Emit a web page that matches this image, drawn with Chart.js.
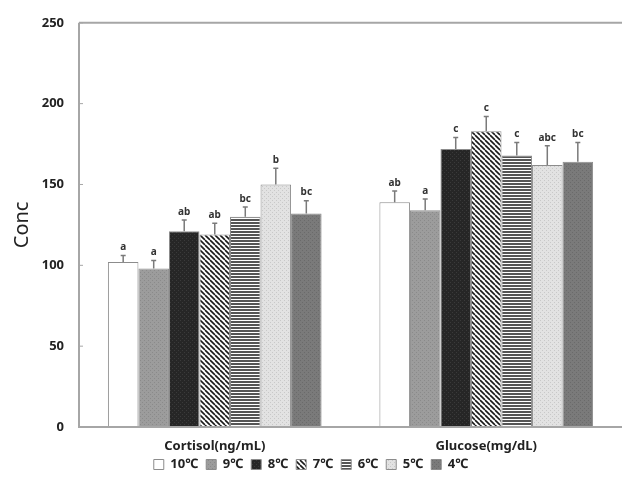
<!DOCTYPE html>
<html>
<head>
<meta charset="utf-8">
<script src="https://cdn.jsdelivr.net/npm/chart.js@4.4.1/dist/chart.umd.min.js"></script>
<style>
  html, body { margin: 0; padding: 0; background: #fff; overflow: hidden; }
  #wrap { width: 622px; height: 480px; }
</style>
</head>
<body>
<div id="wrap"><canvas id="chart" width="622" height="480"></canvas></div>
<script>
const categories = ['Cortisol(ng/mL)', 'Glucose(mg/dL)'];
const temps = ['10℃', '9℃', '8℃', '7℃', '6℃', '5℃', '4℃'];

const cortisol = [102, 98, 121, 119, 130, 150, 132];
const cortisolErr = [4, 5, 7, 7, 6, 10, 8];
const cortisolLetters = ['a', 'a', 'ab', 'ab', 'bc', 'b', 'bc'];

const glucose = [139, 134, 172, 183, 168, 162, 164];
const glucoseErr = [7, 7, 7, 9, 8, 12, 12];
const glucoseLetters = ['ab', 'a', 'c', 'c', 'c', 'abc', 'bc'];

const yTicks = [0, 50, 100, 150, 200, 250];

// small canvas patterns to mimic the hatched fills
function makePattern(size, bg, paint) {
  const c = document.createElement('canvas');
  c.width = size; c.height = size;
  const g = c.getContext('2d');
  g.fillStyle = bg;
  g.fillRect(0, 0, size, size);
  if (paint) paint(g, size);
  return g.createPattern(c, 'repeat');
}

function dots(color) {
  return (g) => { g.fillStyle = color; g.fillRect(0, 0, 1, 1); g.fillRect(2, 2, 1, 1); };
}

const fills = [
  '#ffffff',
  makePattern(4, '#9c9c9c', dots('#8a8a8a')),
  makePattern(4, '#262626', dots('#3a3a3a')),
  makePattern(5, '#ffffff', (g, s) => {
    g.strokeStyle = '#1a1a1a';
    g.lineWidth = 1.6;
    for (let k = -1; k <= 1; k++) {
      g.beginPath();
      g.moveTo(k * s, 0);
      g.lineTo(k * s + s, s);
      g.stroke();
    }
  }),
  makePattern(3, '#ffffff', (g, s) => { g.fillStyle = '#555'; g.fillRect(0, 0, s, 2); }),
  makePattern(4, '#e2e2e2', dots('#c8c8c8')),
  makePattern(4, '#7a7a7a', dots('#6a6a6a'))
];

const datasets = temps.map((t, i) => ({
  label: t,
  data: [cortisol[i], glucose[i]],
  backgroundColor: fills[i],
  borderColor: '#8c8c8c',
  borderWidth: 1,
  errs: [cortisolErr[i], glucoseErr[i]],
  letters: [cortisolLetters[i], glucoseLetters[i]]
}));

const fontFamily = "'Noto Sans', 'Open Sans', sans-serif";

// axes lines, error bars and significance letters
const extras = {
  id: 'extras',
  afterLayout(chart) {
    // let the category labels draw below the (short) x axis box
    chart.scales.x.bottom = chart.height;
  },
  afterDatasetsDraw(chart) {
    const ctx = chart.ctx;
    const area = chart.chartArea;
    const y = chart.scales.y;
    ctx.save();

    ctx.strokeStyle = '#a6a6a6';
    ctx.lineWidth = 2;
    ctx.beginPath();
    ctx.moveTo(area.left, area.top);
    ctx.lineTo(chart.width, area.top);
    ctx.moveTo(area.left, area.top);
    ctx.lineTo(area.left, area.bottom);
    ctx.lineTo(area.right, area.bottom);
    ctx.stroke();

    ctx.lineWidth = 1;
    yTicks.forEach(v => {
      const py = y.getPixelForValue(v);
      ctx.beginPath();
      ctx.moveTo(area.left, py);
      ctx.lineTo(area.left + 4, py);
      ctx.stroke();
    });

    chart.data.datasets.forEach((ds, di) => {
      const meta = chart.getDatasetMeta(di);
      meta.data.forEach((bar, j) => {
        const top = y.getPixelForValue(ds.data[j] + ds.errs[j]);
        ctx.strokeStyle = '#7a7a7a';
        ctx.lineWidth = 1.5;
        ctx.beginPath();
        ctx.moveTo(bar.x, bar.y);
        ctx.lineTo(bar.x, top);
        ctx.moveTo(bar.x - 2.5, top);
        ctx.lineTo(bar.x + 2.5, top);
        ctx.stroke();

        ctx.fillStyle = '#333';
        ctx.font = 'bold 10px ' + fontFamily;
        ctx.textAlign = 'center';
        ctx.textBaseline = 'bottom';
        ctx.fillText(ds.letters[j], bar.x, top - 3);
      });
    });
    ctx.restore();
  }
};

new Chart(document.getElementById('chart'), {
  type: 'bar',
  data: { labels: categories, datasets: datasets },
  options: {
    responsive: false,
    animation: false,
    devicePixelRatio: 1,
    layout: { padding: { top: 19, right: 0, left: 0, bottom: -1 } },
    datasets: { bar: { categoryPercentage: 0.787, barPercentage: 1 } },
    plugins: {
      tooltip: { enabled: false },
      legend: {
        position: 'bottom',
        labels: {
          boxWidth: 10,
          boxHeight: 10,
          padding: 8,
          color: '#222',
          font: { family: fontFamily, size: 13, weight: 'bold' }
        }
      }
    },
    scales: {
      x: {
        grid: { display: false, drawTicks: false },
        border: { display: false },
        ticks: {
          padding: 11,
          color: '#222',
          font: { family: fontFamily, size: 13, weight: 'bold' }
        },
        afterFit(scale) { scale.height = 23; }
      },
      y: {
        min: 0,
        max: 250,
        afterBuildTicks(scale) { scale.ticks = yTicks.map(v => ({ value: v })); },
        grid: { display: false, drawTicks: false },
        border: { display: false },
        ticks: {
          padding: 15,
          color: '#222',
          font: { family: fontFamily, size: 13, weight: 'bold' }
        },
        title: {
          display: true,
          text: 'Conc',
          color: '#222',
          padding: { top: 10, bottom: 0 },
          font: { family: fontFamily, size: 20 }
        },
        afterFit(scale) { scale.width = 79; }
      }
    }
  },
  plugins: [extras]
});
</script>
</body>
</html>
